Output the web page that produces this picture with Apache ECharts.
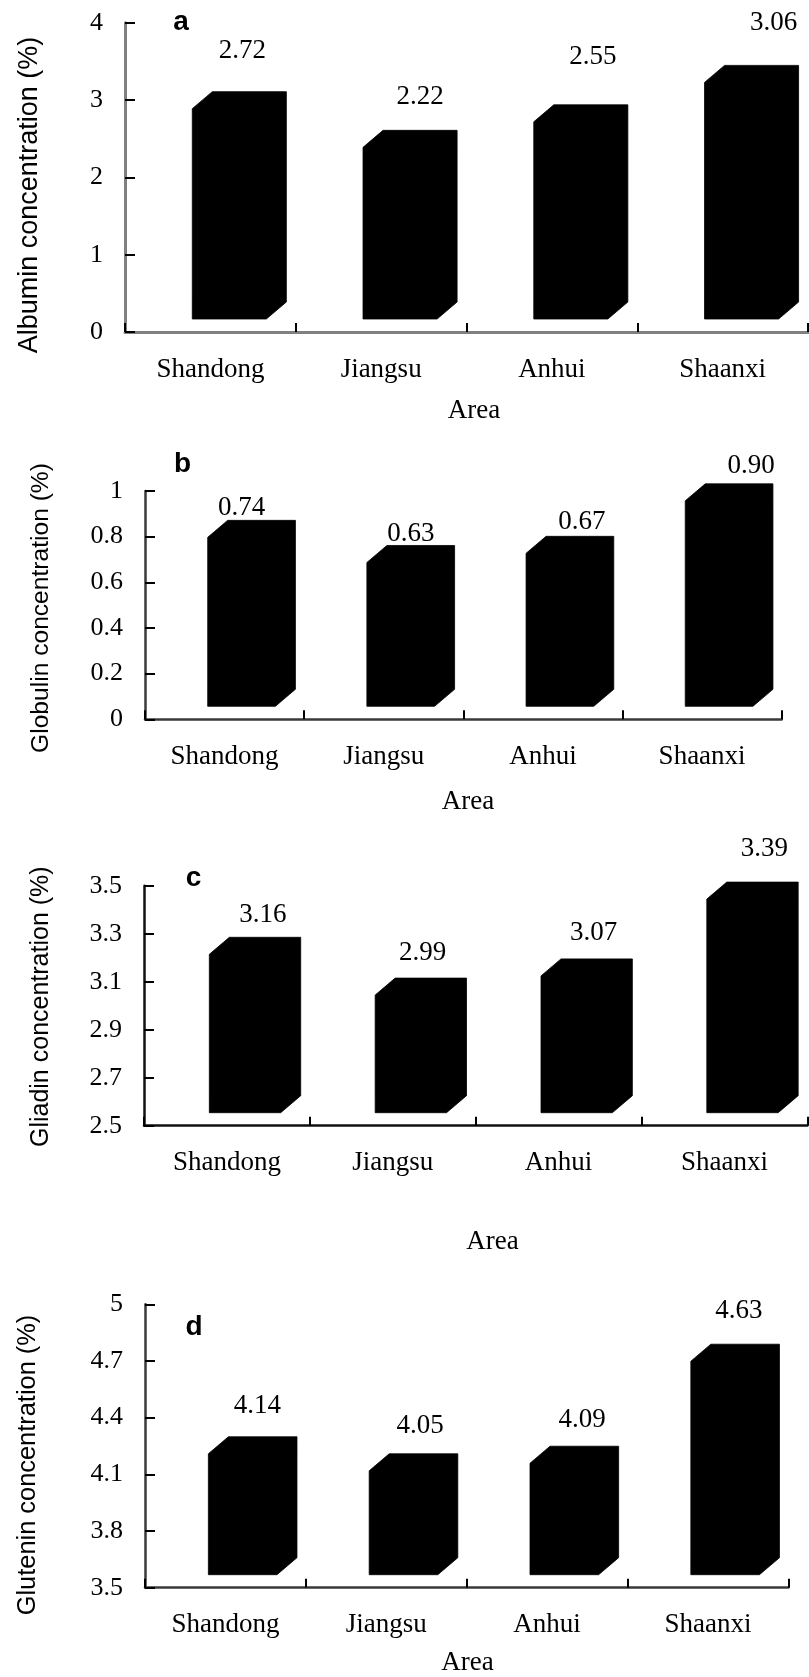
<!DOCTYPE html>
<html><head><meta charset="utf-8">
<script src="https://cdn.jsdelivr.net/npm/echarts@6/dist/echarts.min.js"></script>
<style>html,body{margin:0;padding:0;background:#fff}#c{width:809px;height:1677px}</style>
</head><body><div id="c"></div>
<script>
// ---- data ----
const areas = ['Shandong', 'Jiangsu', 'Anhui', 'Shaanxi'];
const albumin = [2.72, 2.22, 2.55, 3.06];
const globulin = [0.74, 0.63, 0.67, 0.90];
const gliadin = [3.16, 2.99, 3.07, 3.39];
const glutenin = [4.14, 4.05, 4.09, 4.63];
const ticksA = ['0', '1', '2', '3', '4'];
const ticksB = ['0', '0.2', '0.4', '0.6', '0.8', '1'];
const ticksC = ['2.5', '2.7', '2.9', '3.1', '3.3', '3.5'];
const ticksD = ['3.5', '3.8', '4.1', '4.4', '4.7', '5'];
const yNames = ['Albumin concentration (%)', 'Globulin concentration (%)', 'Gliadin concentration (%)', 'Glutenin concentration (%)'];
const letters = ['a', 'b', 'c', 'd'];
const xName = 'Area';

// ---- layout / style ----
const layout = [
  {left:125, top:22.7, width:683, height:309.3, max:4, interval:1, base:0, axisColor:'#808080', axisWidth:3,
   nameX:30, nameY:195, nameSize:27, letterX:181, letterY:22, areaX:474, areaY:411,
   labelDx:[32,39,41,51], labelGap:[41,33,48,42]},
  {left:145, top:491, width:636.7, height:228.3, max:1, interval:0.2, base:0, axisColor:'#3a3a3a', axisWidth:2.5,
   nameX:41, nameY:608, nameSize:24.6, letterX:182.5, letterY:464, areaX:468, areaY:802,
   labelDx:[17,27,39,49], labelGap:[12,12,14,18]},
  {left:144, top:885.7, width:663.3, height:240, max:1, interval:0.2, base:2.5, axisColor:'#111', axisWidth:2.5,
   nameX:41.5, nameY:1006.7, nameSize:25, letterX:193.5, letterY:878.5, areaX:492.5, areaY:1242,
   labelDx:[36,30,35,40], labelGap:[22,25,26,33]},
  {left:145, top:1304.3, width:643.3, height:283.4, max:1.5, interval:0.3, base:3.5, axisColor:'#3a3a3a', axisWidth:2.5,
   nameX:28, nameY:1465, nameSize:25.4, letterX:194, letterY:1327, areaX:467.5, areaY:1663,
   labelDx:[32,34,35,31], labelGap:[31,28,26,33]}
];
const seriesValues = [albumin, globulin, gliadin, glutenin];
const tickSets = [ticksA, ticksB, ticksC, ticksD];
const SERIF = '"Liberation Serif", "DejaVu Serif", serif';
const SANS = '"Liberation Sans", Arial, sans-serif';
const DX = 20, DY = 17, B0 = 13;

const grids = [], xAxes = [], yAxes = [], series = [], graphics = [];
layout.forEach((L, p) => {
  grids.push({left:L.left, top:L.top, width:L.width, height:L.height, containLabel:false});
  xAxes.push({
    type:'category', gridIndex:p, data:areas, boundaryGap:true,
    axisLine:{show:true, lineStyle:{color:L.axisColor, width:L.axisWidth}},
    axisTick:{show:true, inside:true, length:9, lineStyle:{color:'#000', width:2}},
    axisLabel:{margin:24, fontFamily:SERIF, fontSize:27, color:'#000'},
    splitLine:{show:false}
  });
  const tl = tickSets[p];
  yAxes.push({
    type:'value', gridIndex:p, min:0, max:L.max, interval:L.interval,
    axisLine:{show:true, lineStyle:{color:L.axisColor, width:L.axisWidth}},
    axisTick:{show:true, inside:true, length:10, lineStyle:{color:'#000', width:2}},
    axisLabel:{margin:22, fontFamily:SERIF, fontSize:26, color:'#000',
      formatter:(v, idx) => tl[Math.round(v / L.interval)]},
    splitLine:{show:false}
  });
  const vals = seriesValues[p];
  series.push({
    type:'custom', xAxisIndex:p, yAxisIndex:p, clip:false,
    encode:{x:0, y:1},
    data: vals.map((v, i) => [i, v - L.base, v]),
    renderItem:(params, api) => {
      const i = api.value(0);
      const v = api.value(2);
      const base = api.coord([i, 0]);
      const top = api.coord([i, api.value(1)]);
      const cw = api.size([1, 0])[0];
      const cx = base[0];
      const xl = cx - 0.106 * cw, xr = cx + 0.445 * cw;
      const fb = base[1] - B0, ft = top[1] - B0;
      return {
        type:'group',
        children:[
          {type:'polygon', shape:{points:[[xl,fb],[xl,ft],[xl+DX,ft-DY],[xr,ft-DY],[xr,fb-DY],[xr-DX,fb]]},
           style:{fill:'#000', stroke:'#000', lineWidth:0.8}},
          {type:'text', style:{text:v.toFixed(2), x:cx + L.labelDx[i], y:ft - DY - L.labelGap[i],
            align:'center', verticalAlign:'middle', font:'27px ' + SERIF, fill:'#000'}}
        ]
      };
    }
  });
  graphics.push({type:'text', x:L.nameX, y:L.nameY, rotation:Math.PI/2,
    style:{text:yNames[p], font:L.nameSize + 'px ' + SANS, fill:'#000', align:'center', verticalAlign:'middle'}});
  graphics.push({type:'text', x:L.letterX, y:L.letterY,
    style:{text:letters[p], font:'bold 28px ' + SANS, fill:'#000', align:'center', verticalAlign:'middle'}});
  graphics.push({type:'text', x:L.areaX, y:L.areaY,
    style:{text:xName, font:'27px ' + SERIF, fill:'#000', align:'center', verticalAlign:'middle'}});
});

const chart = echarts.init(document.getElementById('c'), null, {renderer:'canvas'});
chart.setOption({
  animation:false, backgroundColor:'#fff',
  grid:grids, xAxis:xAxes, yAxis:yAxes, series:series, graphic:graphics
});
</script></body></html>
